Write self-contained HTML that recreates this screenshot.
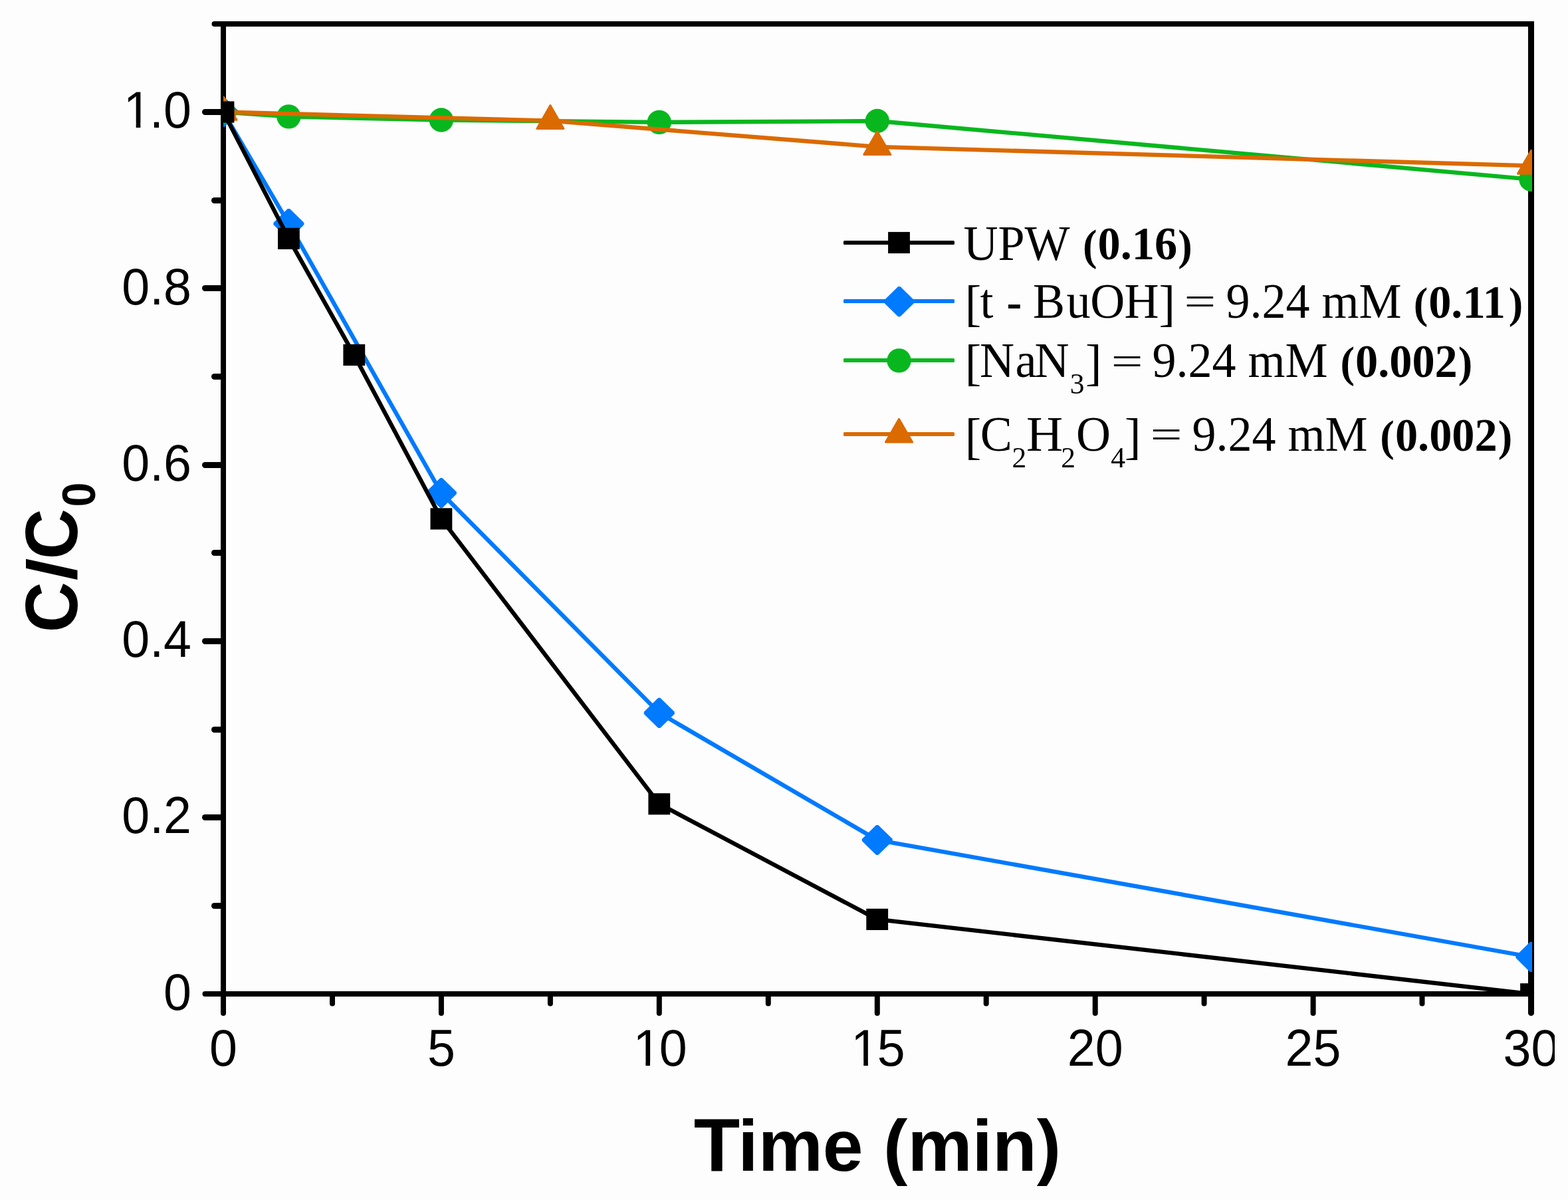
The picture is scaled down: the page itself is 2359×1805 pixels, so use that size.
<!DOCTYPE html>
<html lang="en">
<head>
<meta charset="utf-8">
<title>C/C0 vs Time (min)</title>
<style>
  html, body { margin: 0; padding: 0; background: #FDFDFD; }
  body { width: 2359px; height: 1805px; overflow: hidden; }
  svg { display: block; }
  .tick { font-family: "Liberation Sans", Arial, Helvetica, sans-serif; font-size: 75.4px; fill: #000; }
  .title { font-family: "Liberation Sans", Arial, Helvetica, sans-serif; font-weight: bold; font-size: 108.8px; fill: #000; }
  .leg { font-family: "Liberation Serif", "Times New Roman", Times, serif; font-size: 72px; fill: #000; white-space: pre; }
</style>
</head>
<body>
<svg width="2359" height="1805" viewBox="0 0 2359 1805">
<defs>
  <clipPath id="plotclip"><rect x="336" y="36" width="1969" height="1460"/></clipPath>
  <clipPath id="oneclip"><rect x="-5" y="-70" width="200" height="63.2"/><rect x="21.46" y="-7" width="6.66" height="12"/><rect x="41.5" y="-7" width="160" height="30"/></clipPath>
  <clipPath id="pageclip"><rect x="0" y="0" width="2339" height="1805"/></clipPath>
</defs>
<rect x="0" y="0" width="2359" height="1805" fill="#FDFDFD"/>

<g stroke="#000" stroke-width="8" fill="none">
<g stroke-linecap="butt">
<line x1="332.0" y1="36.0" x2="2308.0" y2="36.0"/>
<line x1="332.0" y1="1495.0" x2="2308.0" y2="1495.0"/>
<line x1="336.0" y1="32.0" x2="336.0" y2="1499.0"/>
<line x1="2303.5" y1="32.0" x2="2303.5" y2="1499.0" stroke-width="9"/>
</g>
<g stroke-linecap="round">
<line x1="308.5" y1="1495.0" x2="335.0" y2="1495.0"/>
<line x1="322.5" y1="1362.5" x2="335.0" y2="1362.5" stroke-width="9"/>
<line x1="308.5" y1="1229.5" x2="335.0" y2="1229.5" stroke-width="9"/>
<line x1="322.5" y1="1097.5" x2="335.0" y2="1097.5" stroke-width="9"/>
<line x1="308.5" y1="964.5" x2="335.0" y2="964.5" stroke-width="9"/>
<line x1="322.5" y1="831.5" x2="335.0" y2="831.5" stroke-width="9"/>
<line x1="308.5" y1="699.5" x2="335.0" y2="699.5" stroke-width="9"/>
<line x1="322.5" y1="566.5" x2="335.0" y2="566.5" stroke-width="9"/>
<line x1="308.5" y1="433.5" x2="335.0" y2="433.5" stroke-width="9"/>
<line x1="322.5" y1="301.5" x2="335.0" y2="301.5" stroke-width="9"/>
<line x1="308.5" y1="168.5" x2="335.0" y2="168.5" stroke-width="9"/>
<line x1="322.5" y1="36.0" x2="335.0" y2="36.0"/>
<line x1="336.0" y1="1495.0" x2="336.0" y2="1524"/>
<line x1="500.0" y1="1495.0" x2="500.0" y2="1509.5"/>
<line x1="663.9" y1="1495.0" x2="663.9" y2="1524"/>
<line x1="827.9" y1="1495.0" x2="827.9" y2="1509.5"/>
<line x1="991.8" y1="1495.0" x2="991.8" y2="1524"/>
<line x1="1155.8" y1="1495.0" x2="1155.8" y2="1509.5"/>
<line x1="1319.8" y1="1495.0" x2="1319.8" y2="1524"/>
<line x1="1483.7" y1="1495.0" x2="1483.7" y2="1509.5"/>
<line x1="1647.7" y1="1495.0" x2="1647.7" y2="1524"/>
<line x1="1811.6" y1="1495.0" x2="1811.6" y2="1509.5"/>
<line x1="1975.6" y1="1495.0" x2="1975.6" y2="1524"/>
<line x1="2139.5" y1="1495.0" x2="2139.5" y2="1509.5"/>
<line x1="2303.5" y1="1495.0" x2="2303.5" y2="1523.6" stroke-width="9"/>
</g>
</g>
<g clip-path="url(#plotclip)">
<polyline points="336.0,168.5 434.4,336.5 663.9,741.5 991.8,1072.4 1319.8,1263.5 2303.5,1439.4" fill="none" stroke="#007AFF" stroke-width="6.3" stroke-linejoin="round" stroke-linecap="round"/>
<polygon points="334.4,145.9 337.6,145.9 359.0,166.9 359.0,170.1 337.6,191.1 334.4,191.1 313.0,170.1 313.0,166.9" fill="#007AFF"/>
<polygon points="432.8,313.9 436.0,313.9 457.4,334.9 457.4,338.1 436.0,359.1 432.8,359.1 411.4,338.1 411.4,334.9" fill="#007AFF"/>
<polygon points="662.3,718.9 665.5,718.9 686.9,739.9 686.9,743.1 665.5,764.1 662.3,764.1 640.9,743.1 640.9,739.9" fill="#007AFF"/>
<polygon points="990.2,1049.8 993.4,1049.8 1014.8,1070.8 1014.8,1074.0 993.4,1095.0 990.2,1095.0 968.8,1074.0 968.8,1070.8" fill="#007AFF"/>
<polygon points="1318.2,1240.9 1321.3,1240.9 1342.8,1261.9 1342.8,1265.1 1321.3,1286.1 1318.2,1286.1 1296.8,1265.1 1296.8,1261.9" fill="#007AFF"/>
<polygon points="2301.9,1416.8 2305.1,1416.8 2326.5,1437.8 2326.5,1441.0 2305.1,1462.0 2301.9,1462.0 2280.5,1441.0 2280.5,1437.8" fill="#007AFF"/>
<polyline points="336.0,168.5 434.4,175.4 663.9,180.5 991.8,183.9 1319.8,182.0 2303.5,269.7" fill="none" stroke="#08B71E" stroke-width="6.3" stroke-linejoin="round" stroke-linecap="round"/>
<circle cx="336.0" cy="168.5" r="18.2" fill="#08B71E"/>
<circle cx="434.4" cy="175.4" r="18.2" fill="#08B71E"/>
<circle cx="663.9" cy="180.5" r="18.2" fill="#08B71E"/>
<circle cx="991.8" cy="183.9" r="18.2" fill="#08B71E"/>
<circle cx="1319.8" cy="182.0" r="18.2" fill="#08B71E"/>
<circle cx="2303.5" cy="269.7" r="18.2" fill="#08B71E"/>
<polyline points="336.0,168.5 827.9,181.6 1319.8,220.8 2303.5,249.4" fill="none" stroke="#DB6A00" stroke-width="6.3" stroke-linejoin="round" stroke-linecap="round"/>
<polygon points="336.0,145.5 356.0,180.3 316.0,180.3" fill="#DB6A00" stroke="#DB6A00" stroke-width="3" stroke-linejoin="round"/>
<polygon points="827.9,158.6 847.9,193.4 807.9,193.4" fill="#DB6A00" stroke="#DB6A00" stroke-width="3" stroke-linejoin="round"/>
<polygon points="1319.8,197.8 1339.8,232.6 1299.8,232.6" fill="#DB6A00" stroke="#DB6A00" stroke-width="3" stroke-linejoin="round"/>
<polygon points="2303.5,226.4 2323.5,261.2 2283.5,261.2" fill="#DB6A00" stroke="#DB6A00" stroke-width="3" stroke-linejoin="round"/>
<polyline points="336.0,168.5 434.4,358.9 532.8,533.9 663.9,780.4 991.8,1209.3 1319.8,1382.9 2303.5,1495.2" fill="none" stroke="#000000" stroke-width="6.3" stroke-linejoin="round" stroke-linecap="round"/>
<rect x="319.6" y="152.4" width="32.8" height="32.2" fill="#000000"/>
<rect x="418.0" y="342.8" width="32.8" height="32.2" fill="#000000"/>
<rect x="516.4" y="517.8" width="32.8" height="32.2" fill="#000000"/>
<rect x="647.5" y="764.3" width="32.8" height="32.2" fill="#000000"/>
<rect x="975.4" y="1193.2" width="32.8" height="32.2" fill="#000000"/>
<rect x="1303.3" y="1366.8" width="32.8" height="32.2" fill="#000000"/>
<rect x="2287.1" y="1479.1" width="32.8" height="32.2" fill="#000000"/>
</g>
<g clip-path="url(#pageclip)">
<text class="tick" transform="translate(246.1 1518.6) scale(1 1.0405)">0</text>
<text class="tick" transform="translate(183.2 1253.3) scale(1 1.0405)">0.2</text>
<text class="tick" transform="translate(183.2 988.1) scale(1 1.0405)">0.4</text>
<text class="tick" transform="translate(183.2 722.8) scale(1 1.0405)">0.6</text>
<text class="tick" transform="translate(183.2 457.5) scale(1 1.0405)">0.8</text>
<text class="tick" clip-path="url(#oneclip)" x="2.50 41.93 62.88" y="0" transform="translate(183.2 192.2) scale(1 1.0405)">1.0</text>
<text class="tick" transform="translate(315.0 1603.0) scale(1 1.0405)">0</text>
<text class="tick" transform="translate(642.9 1603.0) scale(1 1.0405)">5</text>
<text class="tick" clip-path="url(#oneclip)" x="2.50 41.93" y="0" transform="translate(949.9 1603.0) scale(1 1.0405)">10</text>
<text class="tick" clip-path="url(#oneclip)" x="2.50 41.93" y="0" transform="translate(1277.8 1603.0) scale(1 1.0405)">15</text>
<text class="tick" transform="translate(1605.7 1603.0) scale(1 1.0405)">20</text>
<text class="tick" transform="translate(1933.6 1603.0) scale(1 1.0405)">25</text>
<text class="tick" transform="translate(2261.6 1603.0) scale(1 1.0405)">30</text>
</g>
<text class="title" y="1761" style="font-size:109.3px"><tspan x="1043.8" style="font-size:113.7px">T</tspan><tspan x="1110.3">ime (min)</tspan></text>
<text class="title" transform="translate(115.6 952) rotate(-90) scale(0.98 1.04)" style="font-size:107.5px"><tspan x="0.8" y="0">C</tspan><tspan x="80.5" y="-1.9" textLength="34.45" lengthAdjust="spacingAndGlyphs" style="font-size:100px">/</tspan><tspan x="113.1" y="0">C</tspan><tspan x="193.4" y="26.4" style="font-size:68px">0</tspan></text>
<g>
<rect x="1269" y="362.0" width="167" height="6" rx="1.6" fill="#000000"/>
<rect x="1336.1" y="348.9" width="32.8" height="32.2" fill="#000000"/>
<rect x="1269" y="450.0" width="167" height="6" rx="1.6" fill="#007AFF"/>
<polygon points="1351.2,431.0 1354.4,431.0 1375.8,452.0 1375.8,455.2 1354.4,476.2 1351.2,476.2 1329.8,455.2 1329.8,452.0" fill="#007AFF"/>
<rect x="1269" y="539.0" width="167" height="6" rx="1.6" fill="#08B71E"/>
<circle cx="1352.5" cy="542.4" r="18.2" fill="#08B71E"/>
<rect x="1269" y="650.0" width="167" height="6" rx="1.6" fill="#DB6A00"/>
<polygon points="1352.5,630.3 1372.5,665.1 1332.5,665.1" fill="#DB6A00" stroke="#DB6A00" stroke-width="3" stroke-linejoin="round"/>
</g>
<g>
<text class="leg" transform="translate(0 390.5) scale(1 1.03)"><tspan x="1449.59" y="0.00" style="font-size:72.0px">UPW</tspan> <tspan x="1628.97" y="0" style="font-size:64.5px;font-weight:bold">(</tspan><tspan x="1651.54" y="-0.29" style="font-size:68.3px;font-weight:bold">0.16</tspan><tspan x="1772.17" y="0" style="font-size:64.5px;font-weight:bold">)</tspan></text>
<text class="leg" transform="translate(0 477.8) scale(1 1.03)"><tspan x="1451.74" y="3.88" style="font-size:73.55px">[</tspan><tspan x="1474.50" y="0.00" style="font-size:72.0px">t</tspan> <tspan x="1514.50" y="0.00" style="font-size:68.3px;font-weight:bold">-</tspan> <tspan x="1554.03" y="0.00" dx="0.00 2.40 -0.30 -0.60" style="font-size:72.0px">BuOH</tspan><tspan x="1743.44" y="3.88" style="font-size:73.55px">]</tspan> <tspan x="1781.48" y="-4.47" textLength="47.75" lengthAdjust="spacingAndGlyphs" style="font-size:58.0px">=</tspan> <tspan x="1844.58" y="0.00" style="font-size:72.0px">9.24 mM</tspan> <tspan x="2126.67" y="0" style="font-size:64.5px;font-weight:bold">(</tspan><tspan x="2149.24" y="-0.29" style="font-size:68.3px;font-weight:bold">0.11</tspan><tspan x="2269.87" y="0" style="font-size:64.5px;font-weight:bold">)</tspan></text>
<text class="leg" transform="translate(0 567.3) scale(1 1.03)"><tspan x="1451.74" y="3.88" style="font-size:73.55px">[</tspan><tspan x="1474.03" y="0.00" dx="0.00 1.60 -3.00" style="font-size:72.0px">NaN</tspan><tspan x="1609.72" y="24.08" style="font-size:43.5px">3</tspan><tspan x="1632.94" y="3.88" style="font-size:73.55px">]</tspan> <tspan x="1671.68" y="-4.47" textLength="47.75" lengthAdjust="spacingAndGlyphs" style="font-size:58.0px">=</tspan> <tspan x="1733.58" y="0.00" style="font-size:72.0px">9.24 mM</tspan> <tspan x="2016.47" y="0" style="font-size:64.5px;font-weight:bold">(</tspan><tspan x="2039.04" y="-0.29" style="font-size:68.3px;font-weight:bold">0.002</tspan><tspan x="2193.82" y="0" style="font-size:64.5px;font-weight:bold">)</tspan></text>
<text class="leg" transform="translate(0 678.0) scale(1 1.03)"><tspan x="1451.74" y="3.88" style="font-size:73.55px">[</tspan><tspan x="1474.75" y="0.00" style="font-size:72.0px">C</tspan><tspan x="1522.49" y="24.08" style="font-size:43.5px">2</tspan><tspan x="1543.90" y="0.00" textLength="55.12" lengthAdjust="spacingAndGlyphs" style="font-size:72.0px">H</tspan><tspan x="1596.29" y="24.08" style="font-size:43.5px">2</tspan><tspan x="1619.05" y="0.00" style="font-size:72.0px">O</tspan><tspan x="1671.15" y="24.08" style="font-size:43.5px">4</tspan><tspan x="1691.94" y="3.88" style="font-size:73.55px">]</tspan> <tspan x="1730.68" y="-4.47" textLength="47.75" lengthAdjust="spacingAndGlyphs" style="font-size:58.0px">=</tspan> <tspan x="1793.48" y="0.00" style="font-size:72.0px">9.24 mM</tspan> <tspan x="2076.37" y="0" style="font-size:64.5px;font-weight:bold">(</tspan><tspan x="2098.94" y="-0.29" style="font-size:68.3px;font-weight:bold">0.002</tspan><tspan x="2253.72" y="0" style="font-size:64.5px;font-weight:bold">)</tspan></text>
</g>
</svg>
</body>
</html>
